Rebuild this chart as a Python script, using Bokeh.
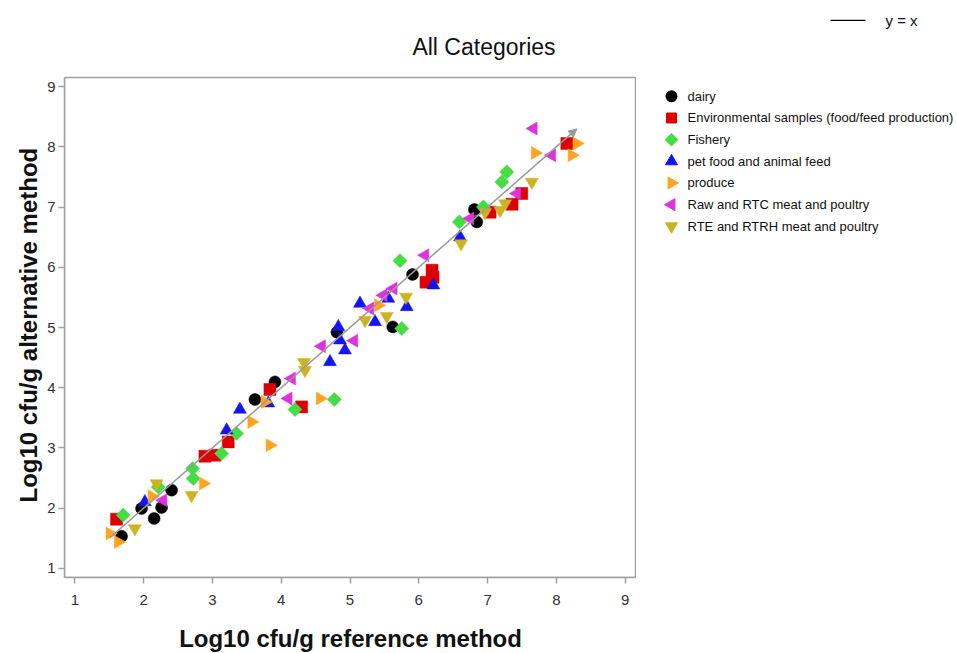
import numpy as np
from bokeh.plotting import figure
from bokeh.layouts import row
from bokeh.models import (Range1d, Arrow, NormalHead, FixedTicker, Title, BoxAnnotation)
from bokeh.core.properties import value
from bokeh.embed import file_html
from bokeh.resources import INLINE

# ---- data ----
dairy_x = [1.679, 1.970, 2.153, 2.261, 2.407, 3.618, 3.909, 4.811, 5.621, 5.909, 6.808, 6.843]
dairy_y = [1.536, 1.996, 1.830, 2.012, 2.300, 3.805, 4.097, 4.922, 5.010, 5.881, 6.958, 6.753]

env_x = [1.607, 2.891, 3.036, 3.230, 3.836, 4.297, 6.105, 6.193, 6.207, 7.036, 7.356, 7.497, 8.152]
env_y = [1.818, 2.864, 2.880, 3.101, 3.971, 3.682, 5.752, 5.951, 5.835, 6.914, 7.046, 7.224, 8.054]

fish_x = [1.703, 2.212, 2.712, 2.721, 3.134, 3.352, 4.200, 4.772, 5.727, 5.752, 6.590, 6.939, 7.207, 7.279]
fish_y = [1.885, 2.354, 2.660, 2.494, 2.909, 3.241, 3.639, 3.805, 6.109, 4.983, 6.753, 7.002, 7.417, 7.583]

pet_x = [2.018, 3.207, 3.400, 3.812, 4.709, 4.830, 4.855, 4.927, 5.145, 5.364, 5.557, 5.825, 6.212, 6.600]
pet_y = [2.105, 3.295, 3.639, 3.744, 4.429, 5.010, 4.789, 4.623, 5.398, 5.093, 5.481, 5.342, 5.702, 6.499]

prod_x = [1.509, 1.630, 2.120, 2.866, 3.570, 3.764, 3.836, 4.564, 5.412, 7.691, 8.225, 8.297]
prod_y = [1.581, 1.441, 2.200, 2.411, 3.433, 3.765, 3.046, 3.822, 5.370, 7.898, 7.860, 8.054]

raw_x = [2.284, 4.103, 4.152, 4.588, 5.058, 5.291, 5.484, 5.630, 6.091, 6.745, 7.425, 7.666, 7.934]
raw_y = [2.134, 3.822, 4.154, 4.690, 4.781, 5.315, 5.536, 5.647, 6.200, 6.809, 7.224, 8.303, 7.860]

rte_x = [1.873, 2.188, 2.697, 4.331, 4.345, 5.218, 5.534, 5.815, 6.615, 6.964, 7.182, 7.255, 7.643]
rte_y = [1.664, 2.411, 2.217, 4.424, 4.291, 5.121, 5.188, 5.508, 6.394, 6.914, 6.947, 7.058, 7.417]

categories = ["dairy", "Environmental samples (food/feed production)", "Fishery",
              "pet food and animal feed", "produce", "Raw and RTC meat and poultry",
              "RTE and RTRH meat and poultry"]
ticks = [1, 2, 3, 4, 5, 6, 7, 8, 9]

title_text = "All Categories"
x_label = "Log10 cfu/g reference method"
y_label = "Log10 cfu/g alternative method"
line_label = "y = x"

# ---- layout constants (pixels) ----
FONT = "Liberation Sans"
FRAME_GRAY = "#a0a0a0"
H = 653                 # canvas height
BOX_L, BOX_T = 64, 77   # plot box left / top on the page
BOX_W, BOX_H = 571, 500 # plot box size
LO, HI = 0.85, 9.15     # axis limits of the plot box
BOTTOM = H - (BOX_T + BOX_H)
upx = (HI - LO) / BOX_W  # data units per pixel (x)
upy = (HI - LO) / BOX_H  # data units per pixel (y)

# ---- main figure: its frame reaches the top of the canvas ----
p = figure(frame_width=BOX_W + 1, frame_height=BOX_T + BOX_H,
           output_backend="svg", toolbar_location=None,
           x_range=Range1d(LO, HI + upx), y_range=Range1d(LO, HI + BOX_T * upy),
           min_border_left=BOX_L, min_border_right=0, min_border_top=0,
           min_border_bottom=BOTTOM)
p.background_fill_color = "white"
p.border_fill_color = "white"
p.outline_line_color = None
p.grid.visible = False

for ax in (p.xaxis[0], p.yaxis[0]):
    ax.ticker = FixedTicker(ticks=ticks)
    ax.bounds = (LO, HI)
    ax.axis_line_color = FRAME_GRAY
    ax.axis_line_width = 1.5
    ax.major_tick_line_color = FRAME_GRAY
    ax.major_tick_line_width = 1.5
    ax.major_tick_in = 0
    ax.major_tick_out = 6
    ax.minor_tick_line_color = None
    ax.major_label_text_font = FONT
    ax.major_label_text_font_size = "15px"
    ax.major_label_text_color = "#333333"

p.xaxis.axis_label = x_label
p.xaxis.axis_label_text_font = FONT
p.xaxis.axis_label_text_font_size = "24px"
p.xaxis.axis_label_text_font_style = "bold"
p.xaxis.axis_label_text_color = "#111111"
p.xaxis.major_label_standoff = 11
p.xaxis.axis_label_standoff = 17
p.yaxis.major_label_standoff = 3

# y-axis title, placed along the plot box (not the taller frame)
ytitle = Title(text=y_label, align="left", offset=75, standoff=5,
               text_font=FONT, text_font_size="24px", text_font_style="bold",
               text_color="#111111")
p.add_layout(ytitle, "left")

# plot box (opaque outline)
p.add_layout(BoxAnnotation(left=LO, right=HI, bottom=LO, top=HI, fill_color=None,
                           line_color=FRAME_GRAY, line_alpha=1.0, line_width=1.5))

series = [
    (dairy_x, dairy_y, "circle", 12, 0.0, "#000000"),
    (env_x, env_y, "square", 12, 0.0, "#dd0000"),
    (fish_x, fish_y, "square", 10, np.pi / 4, "#44dd44"),
    (pet_x, pet_y, "triangle", 13, 0.0, "#1414ee"),
    (prod_x, prod_y, "triangle", 13, -np.pi / 2, "#ffa41f"),
    (raw_x, raw_y, "triangle", 13, np.pi / 2, "#dd33dd"),
    (rte_x, rte_y, "inverted_triangle", 13, 0.0, "#ccb322"),
]

for xs, ys, marker, size, ang, col in series:
    p.scatter(x=xs, y=ys, marker=marker, size=size, angle=ang,
              fill_color=col, line_color=col, line_width=0.5)

# y = x reference line across the data span
all_x = dairy_x + env_x + fish_x + pet_x + prod_x + raw_x + rte_x
lo, hi = min(all_x), max(all_x)
p.add_layout(Arrow(x_start=lo, y_start=lo, x_end=hi, y_end=hi,
                   line_color="#999999", line_width=1.5,
                   end=NormalHead(size=8, fill_color="#999999", line_color="#999999")))

# chart title (inside the tall frame, above the plot box)
title_px, title_py = 483.5, 46
p.text(x=[LO + (title_px - BOX_L) * upx], y=[LO + (BOX_T + BOX_H - title_py) * upy],
       text=[title_text], text_font=value(FONT), text_font_size="23px",
       text_align="center", text_baseline="middle", text_color="#111111")

# ---- legend panel: second figure, data units = page pixels ----
QX = BOX_L + BOX_W + 1
QW = 956 - QX
q = figure(width=QW, height=H, output_backend="svg", toolbar_location=None,
           x_range=Range1d(0, QW), y_range=Range1d(BOTTOM, H),
           x_axis_location=None, y_axis_location=None,
           min_border_left=0, min_border_right=0, min_border_top=0, min_border_bottom=BOTTOM)
q.outline_line_color = None
q.grid.visible = False
q.background_fill_color = "white"
q.border_fill_color = "white"

leg_marker_x = 671 - QX
leg_text_x = 687 - QX
leg_top = H - 96
leg_step = 21.7
leg_sizes = [11, 10, 9, 12, 12, 12, 12]
for i, ((xs, ys, marker, size, ang, col), name) in enumerate(zip(series, categories)):
    yy = leg_top - i * leg_step
    q.scatter(x=[leg_marker_x], y=[yy], marker=marker, size=leg_sizes[i], angle=ang,
              fill_color=col, line_color=col)
    q.text(x=[leg_text_x], y=[yy], text=[name], text_font=value(FONT),
           text_font_size="13px", text_baseline="middle", text_align="left",
           text_color="#111111")

# "y = x" key at the top right
key_y = H - 20
q.line(x=[830 - QX, 865 - QX], y=[key_y, key_y], line_color="black", line_width=1.2)
q.text(x=[885 - QX], y=[key_y], text=[line_label], text_font=value(FONT),
       text_font_size="15px", text_baseline="middle", text_align="left",
       text_color="#111111")

layout = row(p, q)
open("out.html", "w").write(file_html(layout, INLINE))
